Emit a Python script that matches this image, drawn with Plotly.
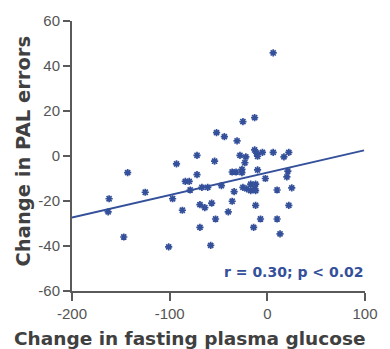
import plotly.graph_objects as go

# Data points: change in fasting plasma glucose (x) vs change in PAL errors (y)
glucose_change = [
    -162, -163, -143, -147, -125, -101, -97, -93, -87, -84,
    -80, -79, -72, -72, -69, -69, -67, -64, -61, -58,
    -57, -54, -53, -47, -40, -36, -36, -32, -34, -28,
    -26, -26, -22, -23, -25, -21, -17, -17, -13, -12,
    -12, -13, -11, -10, -10, -5, -12, -7, -14, -2,
    6, 10, 10, 13, 17, 22, 20, 21, 25, 22,
    6, -13, -25, -52, -44, -31,
]
pal_errors_change = [
    -19.0, -24.8, -7.4, -36.0, -16.1, -40.4, -19.0, -3.5, -24.1, -11.3,
    -11.3, -15.1, 0.3, -8.3, -21.6, -31.7, -13.9, -22.9, -13.9, -39.7,
    -20.9, -2.3, -28.0, -13.2, -24.8, -20.1, -7.1, -7.1, -15.8, 0.3,
    -5.9, -7.4, -0.4, -3.0, -13.9, -14.6, -12.5, -15.4, -14.6, -12.5,
    -15.4, 2.7, 1.3, -0.1, -6.2, 1.6, -21.9, -28.0, -31.7, -10.0,
    1.6, -15.1, -28.0, -34.6, -0.4, 1.6, -9.3, -6.7, -14.2, -21.9,
    45.8, 17.1, 15.3, 10.4, 8.6, 6.7,
]

# Regression line end points
fit_x = [-200, 99]
fit_y = [-27.4, 2.5]

x_ticks = [-200, -100, 0, 100]
x_tick_text = ["-200", "-100", "0", "100"]
y_ticks = [-60, -40, -20, 0, 20, 40, 60]
y_tick_text = ["-60", "-40", "-20", "0", "20", "40", "60"]

stat_label = "r = 0.30; p < 0.02"
x_title = "Change in fasting plasma glucose"
y_title = "Change in PAL errors"

blue = "#34509a"
axis_gray = "#5a5a5a"
title_font = "DejaVu Sans"

# plot-area pixel geometry (used only to place the titles)
L, R, T, B, W, H = 72, 17, 15, 58, 390, 349
pw, ph = W - L - R, H - T - B

fig = go.Figure()
fig.add_trace(go.Scatter(
    x=fit_x, y=fit_y, mode="lines",
    line=dict(color=blue, width=2), showlegend=False, hoverinfo="skip",
))
fig.add_trace(go.Scatter(
    x=glucose_change, y=pal_errors_change, mode="markers",
    marker=dict(symbol="asterisk-open", size=6, color=blue,
                line=dict(color=blue, width=1.7)),
    showlegend=False,
))

fig.add_annotation(
    x=100, y=-51.5, xref="x", yref="y", text="<b>" + stat_label + "</b>",
    showarrow=False, xanchor="right", yanchor="middle",
    font=dict(family=title_font, size=14, color=blue),
)

# axis titles
fig.add_annotation(
    x=(193 - L) / pw, y=-(340 - (T + ph)) / ph, xref="paper", yref="paper",
    text="<b>" + x_title + "</b>", showarrow=False,
    xanchor="center", yanchor="middle",
    font=dict(family=title_font, size=18.5, color="#404040"),
)
fig.add_annotation(
    x=(22 - L) / pw, y=1 - (148 - T) / ph, xref="paper", yref="paper",
    text="<b>" + y_title + "</b>", showarrow=False, textangle=-90,
    xanchor="center", yanchor="middle",
    font=dict(family=title_font, size=19.5, color="#404040"),
)

fig.update_layout(
    width=W, height=H,
    margin=dict(l=L, r=R, t=T, b=B),
    paper_bgcolor="white", plot_bgcolor="white",
    font=dict(family="Liberation Sans, Arial", color=axis_gray),
)
fig.update_xaxes(
    range=[-200, 100], tickvals=x_ticks, ticktext=x_tick_text,
    showgrid=False, zeroline=False,
    showline=True, linecolor=axis_gray, linewidth=2,
    ticks="outside", ticklen=8, tickwidth=2, tickcolor=axis_gray,
    tickfont=dict(size=15, color="#555555"),
)
fig.update_yaxes(
    range=[-60, 60], tickvals=y_ticks, ticktext=y_tick_text,
    showgrid=False, zeroline=False,
    showline=True, linecolor=axis_gray, linewidth=2,
    ticks="outside", ticklen=7, tickwidth=2, tickcolor=axis_gray,
    tickfont=dict(size=15, color="#555555"),
)

fig.write_html("out.html")
